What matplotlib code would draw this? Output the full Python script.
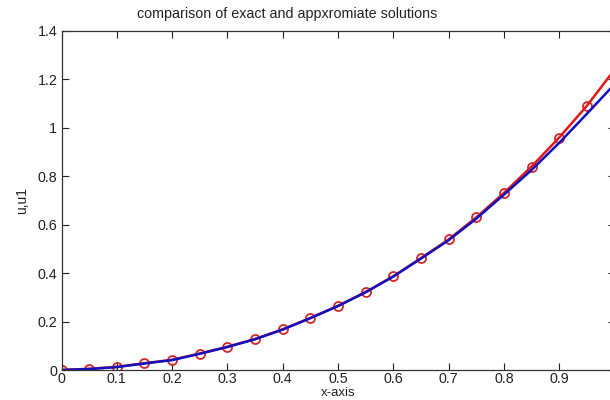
import numpy as np
import matplotlib.pyplot as plt

plt.rcParams['font.family'] = ['Liberation Sans', 'DejaVu Sans']

# sample points
x = [0, 0.05, 0.1, 0.15, 0.2, 0.25, 0.3, 0.35, 0.4, 0.45, 0.5,
     0.55, 0.6, 0.65, 0.7, 0.75, 0.8, 0.85, 0.9, 0.95, 1.0]
u_exact = [0, 0.005, 0.013, 0.028, 0.042, 0.068, 0.096, 0.128, 0.168, 0.215, 0.265,
           0.322, 0.387, 0.462, 0.539, 0.630, 0.731, 0.840, 0.960, 1.091, 1.24]
u_approx = [0, 0.004, 0.012, 0.027, 0.041, 0.067, 0.095, 0.127, 0.167, 0.214, 0.264,
            0.321, 0.386, 0.460, 0.536, 0.625, 0.724, 0.826, 0.938, 1.058, 1.18]

# the "1" at the right end falls outside the cropped picture
xticks = [0, 0.1, 0.2, 0.3, 0.4, 0.5, 0.6, 0.7, 0.8, 0.9, 1.0]
xticklabels = ['0', '0.1', '0.2', '0.3', '0.4', '0.5', '0.6', '0.7', '0.8', '0.9', '']
yticks = [0, 0.2, 0.4, 0.6, 0.8, 1.0, 1.2, 1.4]
yticklabels = ['0', '0.2', '0.4', '0.6', '0.8', '1', '1.2', '1.4']

fig = plt.figure(figsize=(6.1, 4.0), dpi=100)
ax = fig.add_axes([61.5 / 610, 30 / 400, 553 / 610, 339 / 400])

ax.plot(x, u_exact, color='#e01818', lw=1.8, marker='o', ms=6.5,
        mfc='none', mec='#d02828', mew=1.3)
ax.plot(x, u_approx, color='#1010c0', lw=1.8)

ax.set_xlim(0, 1)
ax.set_ylim(0, 1.4)
ax.set_xticks(xticks)
ax.set_xticklabels(xticklabels)
ax.set_yticks(yticks)
ax.set_yticklabels(yticklabels)
ax.tick_params(direction='in', length=5, width=0.8, top=True, right=True,
               labelsize=10.3, colors='#222222', pad=3)
ax.tick_params(axis='x', pad=1.5)
for s in ax.spines.values():
    s.set_color('#333333')
    s.set_linewidth(0.9)

ax.set_ylabel('u,u1', fontsize=10, labelpad=6, color='#222222')
fig.text(338 / 610, 0.5 / 400, 'x-axis', ha='center', va='bottom',
         fontsize=9.5, color='#222222')
fig.text(287 / 610, 1 - 14 / 400, 'comparison of exact and appxromiate solutions',
         ha='center', va='center', fontsize=10.3, color='#222222')

fig.savefig('out.png', dpi=100)
